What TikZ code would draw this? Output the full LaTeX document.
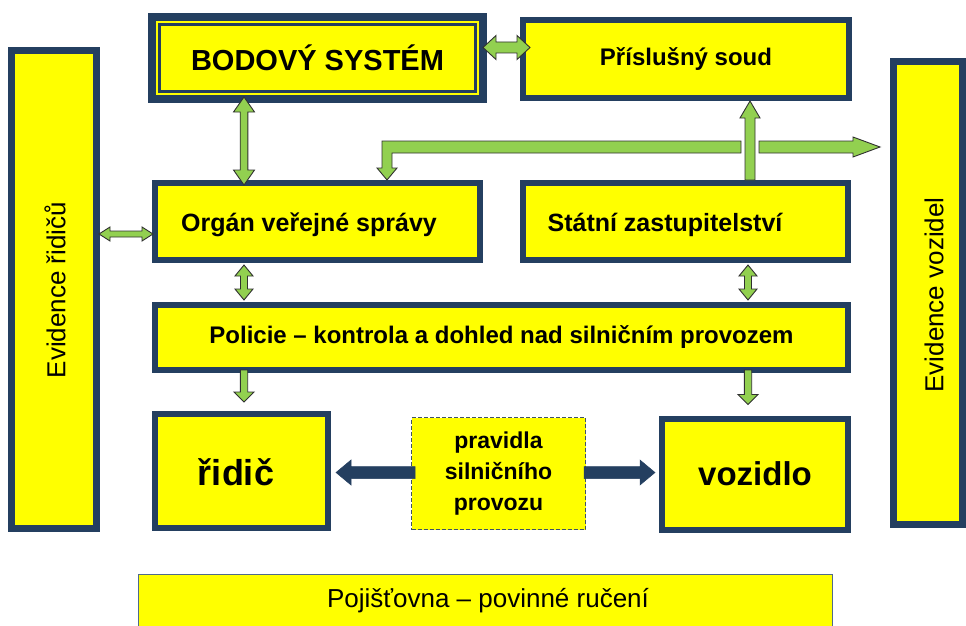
\documentclass[tikz,border=0pt]{standalone}
\usepackage{fontspec}
\setmainfont{Liberation Sans}
\usetikzlibrary{calc}
\definecolor{navy}{HTML}{243F60}
\definecolor{ylw}{HTML}{FFFF00}
\definecolor{agreen}{HTML}{92D050}
\definecolor{aline}{HTML}{303030}
\definecolor{pojline}{HTML}{4F6A8C}

% single block arrow: style, tail, tip, shaft half width, head half width, head length
\newcommand\sarrow[6]{%
  \coordinate (sa-h) at ($(#3)!#6!(#2)$);
  \path[#1] ($(#2)!#4!90:(#3)$) -- ($(sa-h)!#4!90:(#3)$) -- ($(sa-h)!#5!90:(#3)$) -- (#3)
    -- ($(sa-h)!#5!-90:(#3)$) -- ($(sa-h)!#4!-90:(#3)$) -- ($(#2)!#4!-90:(#3)$) -- cycle;
}
% double block arrow: style, end A, end B, shaft half width, head half width, head length
\newcommand\darrow[6]{%
  \coordinate (da-a) at ($(#2)!#6!(#3)$);
  \coordinate (da-b) at ($(#3)!#6!(#2)$);
  \path[#1] (#2) -- ($(da-a)!#5!90:(#3)$) -- ($(da-a)!#4!90:(#3)$) -- ($(da-b)!#4!90:(#3)$)
    -- ($(da-b)!#5!90:(#3)$) -- (#3) -- ($(da-b)!#5!-90:(#3)$) -- ($(da-b)!#4!-90:(#3)$)
    -- ($(da-a)!#4!-90:(#3)$) -- ($(da-a)!#5!-90:(#3)$) -- cycle;
}

\begin{document}
\begin{tikzpicture}[x=1pt,y=-1pt,
  box/.style={draw=navy, line width=6pt, fill=ylw, inner sep=0pt, align=center,
    font=\bfseries\fontsize{24}{28}\selectfont},
  lbl/.style={inner sep=0pt, align=center, font=\bfseries\fontsize{24}{28}\selectfont},
  garrow/.style={fill=agreen, draw=aline, line width=0.9pt, line join=miter},
  narrow/.style={fill=navy, draw=navy, line width=0.5pt, line join=miter}]
\useasboundingbox (0,0) rectangle (966,626);
\clip (0,0) rectangle (966,626);

% boxes
\node[box, line width=7pt, minimum width=85pt, minimum height=478pt] (evr) at (54,289.5) {};
\node[box, line width=8pt, minimum width=331pt, minimum height=82pt,
  font=\bfseries\fontsize{29}{32}\selectfont] (bod) at (317.5,58) {BODOVÝ SYSTÉM};
\draw[navy, line width=2.5pt] ($(bod.north west)+(11.5,11.5)$) rectangle ($(bod.south east)+(-11.5,-11.5)$);
\node[box, minimum width=326pt, minimum height=78pt] (soud) at (686,59) {Příslušný soud};
\node[box, line width=7pt, minimum width=69pt, minimum height=463pt] (evv) at (928,293) {};
\node[box, minimum width=325pt, minimum height=77pt] (org) at (317.5,221.5) {};
\node[box, minimum width=325pt, minimum height=77pt] (sta) at (685.5,221.5) {};
\node[box, minimum width=693pt, minimum height=65pt] (pol) at (501.5,337.5)
  {Policie – kontrola a dohled nad silničním provozem};
\node[box, minimum width=173pt, minimum height=114pt] (rid) at (241.5,471) {};
\node[box, draw=navy!70!gray, line width=1pt, dash pattern=on 4pt off 2pt,
  minimum width=174pt, minimum height=112pt, font=\bfseries\fontsize{23}{31}\selectfont]
  (prav) at (498.5,473.5) {pravidla\\silničního\\provozu};
\node[box, minimum width=186pt, minimum height=111pt,
  font=\bfseries\fontsize{33}{36}\selectfont] (voz) at (755,474) {vozidlo};
\node[box, draw=pojline, line width=1.5pt, minimum width=694pt, minimum height=65pt] (poj) at (485.5,607) {};

% labels
\node[lbl, rotate=90, font=\fontsize{26}{28}\selectfont] (evrt) at (55,290) {Evidence řidičů};
\node[lbl, rotate=90, font=\fontsize{26}{28}\selectfont] (evvt) at (934,295) {Evidence vozidel};
\node[lbl, font=\bfseries\fontsize{25}{28}\selectfont] (orgt) at (309,225) {Orgán veřejné správy};
\node[lbl, font=\bfseries\fontsize{25}{28}\selectfont] (stat) at (665,225) {Státní zastupitelství};
\node[lbl, font=\bfseries\fontsize{36}{38}\selectfont] (ridt) at (236,472) {řidič};
\node[lbl, font=\fontsize{26}{28}\selectfont] (pojt) at (488,601) {Pojišťovna – povinné ručení};

% helper coordinates
\coordinate (xL) at (244,0);
\coordinate (xR) at (748,0);
\coordinate (xU) at (750,0);
\coordinate (xE) at (387,0);
\coordinate (yA) at (0,47.5);
\coordinate (yB) at (0,234);
\coordinate (yD) at (0,472.5);
\coordinate (yH) at (0,147);

% green arrows
\coordinate (a1a) at ($(bod.east |- yA)+(-4,0)$);
\coordinate (a1b) at ($(soud.west |- yA)+(10,0)$);
\darrow{garrow}{a1a}{a1b}{5.5pt}{12pt}{13pt}

\coordinate (a2a) at ($(evr.east |- yB)+(-1,0)$);
\coordinate (a2b) at ($(org.west |- yB)+(1,0)$);
\darrow{garrow}{a2a}{a2b}{3pt}{7pt}{11pt}

\coordinate (a3a) at ($(bod.south -| xL)+(0,-6)$);
\coordinate (a3b) at ($(org.north -| xL)+(0,5)$);
\darrow{garrow}{a3a}{a3b}{3.8pt}{10.5pt}{15pt}

\coordinate (a4a) at ($(org.south -| xL)+(0,2)$);
\coordinate (a4b) at ($(pol.north -| xL)+(0,-2)$);
\darrow{garrow}{a4a}{a4b}{3.5pt}{9pt}{11pt}

\coordinate (a5a) at ($(sta.south -| xR)+(0,2)$);
\coordinate (a5b) at ($(pol.north -| xR)+(0,-2)$);
\darrow{garrow}{a5a}{a5b}{3.5pt}{9pt}{11pt}

\coordinate (a6a) at ($(pol.south -| xL)+(0,-3)$);
\coordinate (a6b) at ($(rid.north -| xL)+(0,-9)$);
\sarrow{garrow}{a6a}{a6b}{3.7pt}{10pt}{10pt}

\coordinate (a7a) at ($(pol.south -| xR)+(0,-3)$);
\coordinate (a7b) at ($(voz.north -| xR)+(0,-11)$);
\sarrow{garrow}{a7a}{a7b}{3.7pt}{10pt}{10pt}

\coordinate (a8a) at (sta.north -| xU);
\coordinate (a8b) at (soud.south -| xU);
\sarrow{garrow}{a8a}{a8b}{5pt}{10pt}{17pt}

% elbow arrow to Organ verejne spravy
\coordinate (a9t) at (org.north -| xE);
\coordinate (a9s) at (741,147);
\path[garrow] ($(a9s |- yH)+(0,-6)$) -- ($(a9t |- yH)+(-5,-6)$) -- ($(a9t)+(-5,-12)$)
  -- ($(a9t)+(-10,-12)$) -- (a9t) -- ($(a9t)+(10,-12)$) -- ($(a9t)+(5,-12)$)
  -- ($(a9t |- yH)+(5,6)$) -- ($(a9s |- yH)+(0,6)$) -- cycle;

\coordinate (a10a) at (759,147);
\coordinate (a10b) at ($(evv.west |- yH)+(-10,0)$);
\sarrow{garrow}{a10a}{a10b}{6pt}{10pt}{27pt}

% navy arrows
\coordinate (a11a) at ($(prav.west |- yD)+(4,0)$);
\coordinate (a11b) at ($(rid.east |- yD)+(5,0)$);
\sarrow{narrow}{a11a}{a11b}{6pt}{12.5pt}{15pt}

\coordinate (a12a) at ($(prav.east |- yD)+(-2,0)$);
\coordinate (a12b) at ($(voz.west |- yD)+(-4,0)$);
\sarrow{narrow}{a12a}{a12b}{6pt}{12.5pt}{15pt}
\end{tikzpicture}
\end{document}
